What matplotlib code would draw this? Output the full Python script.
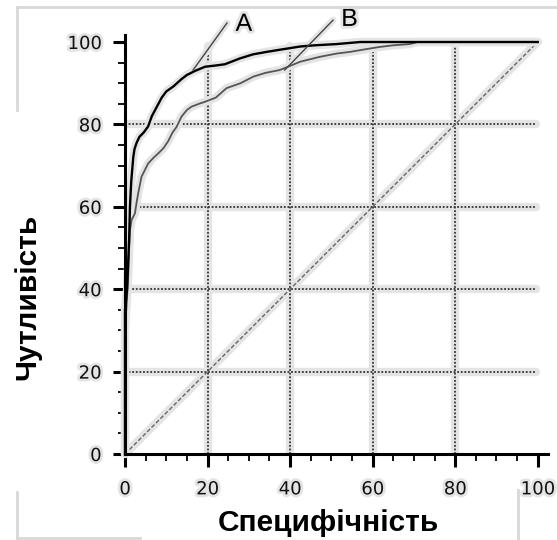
import numpy as np
import matplotlib
matplotlib.use("Agg")
import matplotlib.pyplot as plt
import matplotlib.patheffects as pe
from matplotlib.lines import Line2D


# ROC-криві двох моделей (1 - специфічність, чутливість), %
fpr_a = [0, 0, 0.5, 0.7, 1.0, 1.2, 1.5, 2.0, 2.3, 2.8, 3.5, 4.5, 5.6, 6.5, 7.3, 8.9, 10.0,
         11.7, 13.7, 15.0, 17.0, 19.4, 22.0, 24.2, 27.8, 31.0, 34.3, 38.0, 42.4, 46.0,
         51.3, 57.0, 100.0]
tpr_a = [0, 35, 40, 45, 52, 60, 66, 72, 74, 75.5, 77, 78, 79.5, 82, 83.5, 86.5, 88,
         89.2, 91, 92, 93, 94, 94.3, 94.6, 96, 97, 97.6, 98.2, 98.9, 99.2,
         99.5, 100, 100]

fpr_b = [0, 0, 0.5, 0.8, 1.0, 1.2, 1.6, 2.4, 2.8, 3.2, 4.0, 5.6, 7.0, 8.1, 9.3, 10.5,
         11.5, 12.5, 13.7, 15.0, 16.1, 18.2, 19.4, 22.0, 24.6, 28.0, 31.1, 34.0, 37.5,
         40.0, 42.4, 47.2, 51.3, 54.5, 58.0, 61.7, 65.0, 69.0, 71.0, 100.0]
tpr_b = [0, 30, 38, 44, 50, 54.4, 56.8, 58.4, 61, 63.3, 67.3, 70.5, 72, 73, 74.2, 76,
         78, 79.4, 81.9, 83.5, 84.3, 85.1, 85.5, 86.5, 88.8, 90, 91.6, 92.5, 93.2,
         94.2, 95.2, 96.4, 97.2, 97.6, 98.2, 98.8, 99.2, 99.5, 100, 100]

# підписи кривих: точка на кривій, кінець виноски, назва
callout_a = ((16.5, 93.2), (24.7, 104.6), "A")
callout_b = ((38.7, 93.2), (50.4, 105.3), "B")
label_a_pos = (28.8, 104.4)
label_b_pos = (54.4, 105.6)

grid_ticks = [20, 40, 60, 80]
major_ticks = [0, 20, 40, 60, 80, 100]
minor_ticks = np.arange(0, 101, 5)

halo_col = "#e4e4e4"
halo_txt = [pe.withStroke(linewidth=4, foreground=halo_col)]

fig = plt.figure(figsize=(5.57, 5.40), dpi=100)
ax = fig.add_axes([125 / 557, 86 / 540, 423 / 557, 419 / 540])
ax.set_xlim(0, 102.5)
ax.set_ylim(0, 101.7)

# сітка: світла підкладка + пунктир
for g in grid_ticks:
    ax.plot([0, 99.5], [g, g], color=halo_col, lw=6, solid_capstyle="round", zorder=1)
    ax.plot([g, g], [0, 99], color=halo_col, lw=6, solid_capstyle="round", zorder=1)
for g in grid_ticks:
    ax.plot([0, 99.5], [g, g], color="#333333", lw=1.3, ls=(0, (1, 1)), zorder=2)
    ax.plot([g, g], [0, 99], color="#333333", lw=1.3, ls=(0, (1, 1)), zorder=2)

# діагональ випадкового класифікатора
ax.plot([0, 100], [0, 100], color=halo_col, lw=6, solid_capstyle="round", zorder=1)
ax.plot([0, 100], [0, 100], color="#666666", lw=1.0, ls=(0, (3, 1.5)), zorder=2)

# ореол під кривими, потім самі криві
for fx, ty in ((fpr_a, tpr_a), (fpr_b, tpr_b)):
    ax.plot(fx, ty, color=halo_col, lw=6, solid_capstyle="round", zorder=3,
            clip_on=False)
ax.plot(fpr_b, tpr_b, color="#555555", lw=1.3, zorder=4, clip_on=False)
ax.plot(fpr_a, tpr_a, color="black", lw=1.7, zorder=5, clip_on=False)

for (p0, p1, name), pos in ((callout_a, label_a_pos), (callout_b, label_b_pos)):
    ax.plot([p0[0], p1[0]], [p0[1], p1[1]], color=halo_col, lw=5,
            solid_capstyle="round", zorder=3, clip_on=False)
    ax.plot([p0[0], p1[0]], [p0[1], p1[1]], color="#444444", lw=1.0, zorder=6,
            clip_on=False)
    ax.text(pos[0], pos[1], name, fontsize=18, family="Liberation Sans",
            ha="center", va="center", zorder=7, clip_on=False, path_effects=halo_txt)

for side in ("top", "right"):
    ax.spines[side].set_visible(False)
for side in ("left", "bottom"):
    ax.spines[side].set_linewidth(2.2)
    ax.spines[side].set_zorder(6)

ax.set_xticks(major_ticks)
ax.set_yticks(major_ticks)
ax.set_xticks(minor_ticks, minor=True)
ax.set_yticks(minor_ticks, minor=True)
ax.tick_params(which="major", length=9, width=2.2, pad=10, labelsize=13,
               labelcolor="#111111")
ax.tick_params(which="minor", length=5, width=1.3)
ax.tick_params(axis="y", which="major", pad=8)
for lbl in ax.get_xticklabels() + ax.get_yticklabels():
    lbl.set_path_effects(halo_txt)

fig.text(27 / 557, 1 - 297 / 540, "Чутливість", rotation=90, fontsize=21.5,
         fontweight="bold", family="Liberation Sans", ha="center", va="center")
fig.text(328 / 557, 1 - 523 / 540, "Специфічність", fontsize=21.5,
         fontweight="bold", family="Liberation Sans", ha="center", va="center")

# світлі рамки навколо фрагментів рисунка
frame = dict(color="#d8d8d8", lw=2, transform=fig.transFigure)
fig.add_artist(Line2D([17 / 557, 1], [1 - 7 / 540, 1 - 7 / 540], **frame))
fig.add_artist(Line2D([17 / 557, 17 / 557], [1 - 7 / 540, 1 - 110 / 540], **frame))
fig.add_artist(Line2D([17 / 557, 17 / 557], [1 - 492 / 540, 0], **frame))
fig.add_artist(Line2D([17 / 557, 140 / 557], [2 / 540, 2 / 540], **frame))
fig.add_artist(Line2D([518 / 557, 518 / 557], [1 - 490 / 540, 0], **frame))

fig.savefig("out.png", dpi=100)
